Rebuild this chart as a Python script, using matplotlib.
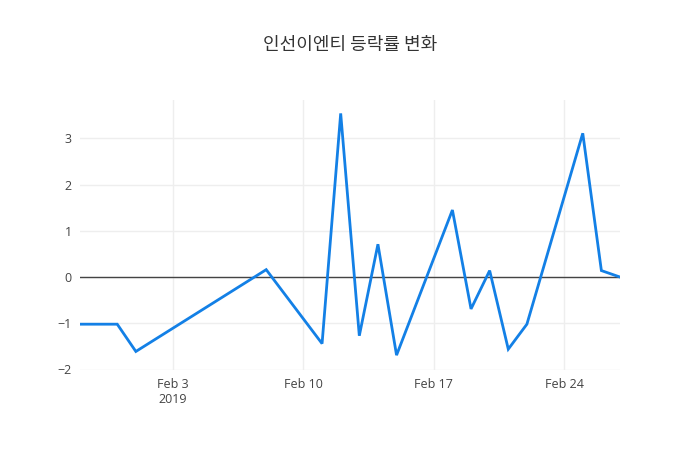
import matplotlib
matplotlib.use("Agg")
import matplotlib.pyplot as plt
import pandas as pd

plt.rcParams['font.family'] = ['Open Sans', 'Noto Sans CJK KR', 'DejaVu Sans']

dates = ["2019-01-29", "2019-01-31", "2019-02-01", "2019-02-08", "2019-02-11",
         "2019-02-12", "2019-02-13", "2019-02-14", "2019-02-15", "2019-02-18",
         "2019-02-19", "2019-02-20", "2019-02-21", "2019-02-22", "2019-02-25",
         "2019-02-26", "2019-02-27"]
values = [-1.02, -1.02, -1.61, 0.16, -1.44, 3.54, -1.27, 0.71, -1.69, 1.45,
          -0.69, 0.14, -1.56, -1.02, 3.11, 0.14, 0.0]
title = "인선이엔티 등락률 변화"
tick_dates = ["2019-02-03", "2019-02-10", "2019-02-17", "2019-02-24"]
tick_labels = ["Feb 3\n2019", "Feb 10", "Feb 17", "Feb 24"]
ytick_vals = [-2, -1, 0, 1, 2, 3]
ytick_labels = ["\u22122", "\u22121", "0", "1", "2", "3"]

x = pd.to_datetime(dates)

fig = plt.figure(figsize=(7, 4.5), dpi=100)
ax = fig.add_axes([80/700, (450-369.5)/450, 540/700, 269.5/450])

ax.plot(x, values, color='#1380e6', linewidth=2, zorder=3, solid_joinstyle='miter')
ax.axhline(0, color='#444444', linewidth=1, zorder=2)

ax.set_xlim(x[0], x[-1])
ax.set_ylim(-2.0, 3.83)

ax.set_xticks(pd.to_datetime(tick_dates))
ax.set_xticklabels(tick_labels)
ax.set_yticks(ytick_vals)
ax.set_yticklabels(ytick_labels)

ax.grid(True, color='#eeeeee', linewidth=1, zorder=0)
for s in ax.spines.values():
    s.set_visible(False)
ax.tick_params(axis='both', length=0, labelsize=9, colors='#444444')
ax.tick_params(axis='x', pad=6)
ax.tick_params(axis='y', pad=6)
for lbl in ax.get_xticklabels():
    lbl.set_linespacing(1.2)

fig.text(350/700, 1 - 45/450, title, ha='center', va='center', fontsize=13,
         color='#333333', family=['Noto Sans CJK KR', 'DejaVu Sans'], fontweight='medium')

fig.savefig("out.png", dpi=100)
